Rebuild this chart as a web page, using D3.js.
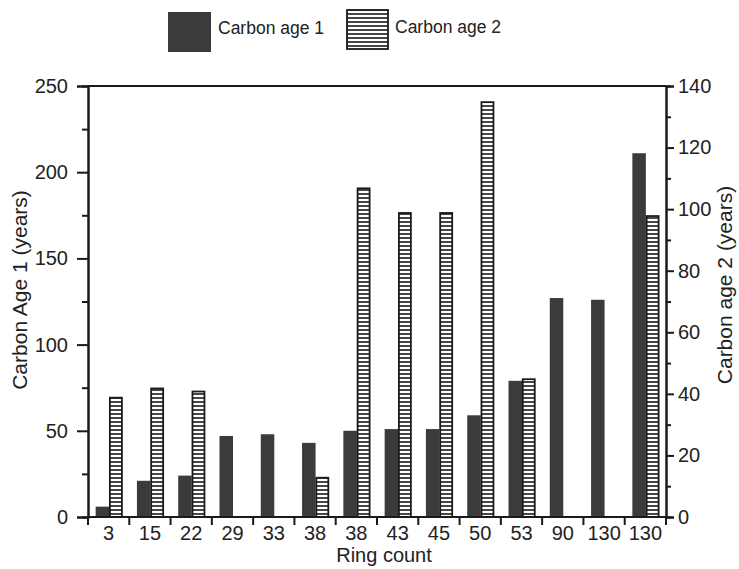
<!DOCTYPE html>
<html>
<head>
<meta charset="utf-8">
<script src="https://cdn.jsdelivr.net/npm/d3@7"></script>
<style>
  body { margin: 0; background: #fff; }
  text { font-family: "Liberation Sans", Arial, sans-serif; fill: #222; }
</style>
</head>
<body>
<div class="home"></div>
<script>
// Ring count categories along the x axis
var categories = ["3", "15", "22", "29", "33", "38", "38", "43", "45", "50", "53", "90", "130", "130"];

// Carbon age 1 (left axis, years)
var age1 = [6, 21, 24, 47, 48, 43, 50, 51, 51, 59, 79, 127, 126, 211];

// Carbon age 2 (right axis, years) - null where no bar
var age2 = [39, 42, 41, null, null, 13, 107, 99, 99, 135, 45, null, null, 98];

// Tick values for both y axes
var leftTicks = [0, 50, 100, 150, 200, 250];
var leftMinor = [25, 75, 125, 175, 225];
var rightTicks = [0, 20, 40, 60, 80, 100, 120, 140];
var rightMinor = [10, 30, 50, 70, 90, 110, 130];

var width = 739,
    height = 569;

// plot frame (window.top is read-only, so use other names)
var plotL = 88, plotR = 666, plotT = 86, plotB = 517;

var svg = d3.select(".home").append("svg")
    .attr("width", width)
    .attr("height", height);

// hatch pattern for Carbon age 2
var defs = svg.append("defs");
var pat = defs.append("pattern")
    .attr("id", "hatch")
    .attr("patternUnits", "userSpaceOnUse")
    .attr("width", 8)
    .attr("height", 4);
pat.append("rect").attr("width", 8).attr("height", 4).attr("fill", "#fff");
pat.append("rect").attr("y", 1.2).attr("width", 8).attr("height", 1.6).attr("fill", "#1a1a1a");

// scales
var x = d3.scaleBand()
    .domain(d3.range(categories.length))
    .range([plotL, plotR])
    .paddingInner(0)
    .paddingOuter(0);

var yL = d3.scaleLinear().domain([0, 250]).range([plotB, plotT]);
var yR = d3.scaleLinear().domain([0, 140]).range([plotB, plotT]);

var barW = 13.5;
var offset = (x.bandwidth() - 2 * barW) / 2 + 0.5;

// Carbon age 1 bars
svg.selectAll(".bar1")
    .data(age1)
    .enter().append("rect")
    .attr("class", "bar1")
    .attr("x", function (d, i) { return x(i) + offset; })
    .attr("y", function (d) { return yL(d); })
    .attr("width", barW)
    .attr("height", function (d) { return plotB - yL(d); })
    .attr("fill", "#3b3b3b");

// Carbon age 2 bars
svg.selectAll(".bar2")
    .data(age2.map(function (v, i) { return { v: v, i: i }; }).filter(function (d) { return d.v !== null; }))
    .enter().append("rect")
    .attr("class", "bar2")
    .attr("x", function (d) { return x(d.i) + offset + barW + 0.75; })
    .attr("y", function (d) { return yR(d.v) + 0.75; })
    .attr("width", barW - 1.5)
    .attr("height", function (d) { return plotB - yR(d.v) - 0.75; })
    .attr("fill", "url(#hatch)")
    .attr("stroke", "#1a1a1a")
    .attr("stroke-width", 1.8);

// left axis
svg.append("g").attr("transform", "translate(" + plotL + ",0)")
    .call(d3.axisLeft(yL).tickValues(leftTicks).tickSize(11).tickPadding(9));
svg.append("g").attr("transform", "translate(" + plotL + ",0)")
    .call(d3.axisLeft(yL).tickValues(leftMinor).tickSize(6).tickFormat(""));

// right axis
svg.append("g").attr("transform", "translate(" + plotR + ",0)")
    .call(d3.axisRight(yR).tickValues(rightTicks).tickSize(8).tickPadding(4));
svg.append("g").attr("transform", "translate(" + plotR + ",0)")
    .call(d3.axisRight(yR).tickValues(rightMinor).tickSize(5).tickFormat(""));

// bottom axis labels at band centres
svg.append("g").attr("class", "xaxis").attr("transform", "translate(0," + plotB + ")")
    .call(d3.axisBottom(x).tickSize(0).tickPadding(9).tickFormat(function (i) { return categories[i]; }));

// bottom ticks at the band boundaries
var bounds = d3.range(categories.length).map(function (i) { return x(i); }).concat([plotR]);
svg.selectAll(".xtick")
    .data(bounds)
    .enter().append("line")
    .attr("class", "xtick")
    .attr("x1", function (d) { return d; })
    .attr("x2", function (d) { return d; })
    .attr("y1", plotB)
    .attr("y2", plotB + 8)
    .attr("stroke", "#1a1a1a")
    .attr("stroke-width", 2);

// top frame line
svg.append("line")
    .attr("x1", plotL).attr("x2", plotR)
    .attr("y1", plotT).attr("y2", plotT)
    .attr("stroke", "#1a1a1a").attr("stroke-width", 2);

// axis styling
svg.selectAll(".domain").attr("stroke", "#1a1a1a").attr("stroke-width", 2);
svg.selectAll(".tick line").attr("stroke", "#1a1a1a").attr("stroke-width", 2);
svg.selectAll(".tick text").style("font-size", "20px").attr("fill", "#222");
svg.select(".xaxis .domain").attr("d", "M" + plotL + ",0H" + plotR);

// axis titles
svg.append("text")
    .attr("transform", "translate(27,290) rotate(-90)")
    .attr("text-anchor", "middle")
    .style("font-size", "21px")
    .text("Carbon Age 1 (years)");

svg.append("text")
    .attr("transform", "translate(732,285) rotate(-90)")
    .attr("text-anchor", "middle")
    .style("font-size", "21px")
    .text("Carbon age 2 (years)");

svg.append("text")
    .attr("x", 384)
    .attr("y", 562)
    .attr("text-anchor", "middle")
    .style("font-size", "20px")
    .text("Ring count");

// legend
svg.append("rect")
    .attr("x", 168).attr("y", 12).attr("width", 43).attr("height", 40)
    .attr("fill", "#3b3b3b");
svg.append("text")
    .attr("x", 218).attr("y", 34)
    .style("font-size", "17.5px")
    .text("Carbon age 1");

svg.append("rect")
    .attr("x", 347).attr("y", 10).attr("width", 41).attr("height", 39)
    .attr("fill", "url(#hatch)")
    .attr("stroke", "#1a1a1a")
    .attr("stroke-width", 1.8);
svg.append("text")
    .attr("x", 395).attr("y", 33)
    .style("font-size", "17.5px")
    .text("Carbon age 2");
</script>
</body>
</html>
